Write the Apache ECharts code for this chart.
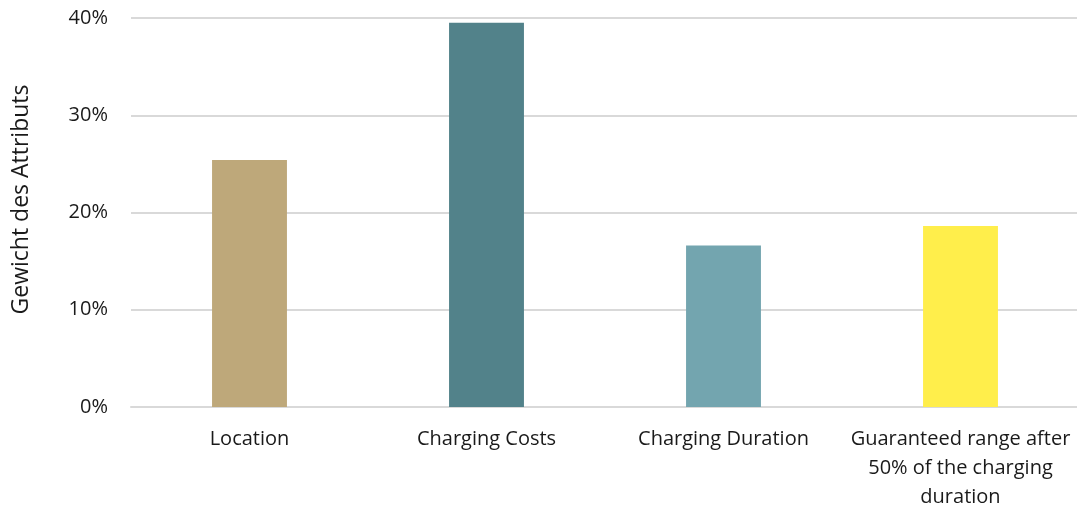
<!DOCTYPE html>
<html>
<head>
<meta charset="utf-8">
<script src="https://cdn.jsdelivr.net/npm/echarts@6/dist/echarts.min.js"></script>
<style>
  html, body { margin: 0; padding: 0; background: #ffffff; }
  #chart { width: 1077px; height: 506px; }
</style>
</head>
<body>
<div id="chart"></div>
<script>
// Attribute weights (share of total importance)
const categories = [
  'Location',
  'Charging Costs',
  'Charging Duration',
  'Guaranteed range after\n50% of the charging\nduration'
];
const weights = [0.254, 0.395, 0.166, 0.186];
const barColors = ['#BEA87A', '#52828A', '#73A5AF', '#FFEE4B'];
const yTicks = [0, 0.1, 0.2, 0.3, 0.4];

const font = '"Open Sans", "Liberation Sans", sans-serif';

const chart = echarts.init(document.getElementById('chart'), null, { renderer: 'canvas' });

chart.setOption({
  animation: false,
  backgroundColor: '#ffffff',
  grid: { left: 131, top: 18, width: 948, bottom: 99, containLabel: false, outerBoundsMode: 'none' },
  xAxis: {
    type: 'category',
    data: categories,
    axisLine: { show: true, lineStyle: { color: '#D9D9D9', width: 2 } },
    axisTick: { show: false },
    axisLabel: {
      interval: 0,
      color: '#1a1a1a',
      fontFamily: font,
      fontSize: 20,
      lineHeight: 29,
      margin: 18
    }
  },
  yAxis: {
    type: 'value',
    min: yTicks[0],
    max: yTicks[yTicks.length - 1],
    interval: 0.1,
    name: 'Gewicht des Attributs',
    nameLocation: 'middle',
    nameGap: 98,
    nameTextStyle: { color: '#1a1a1a', fontFamily: font, fontSize: 23, padding: [0, 0, 0, 26] },
    axisLine: { show: false },
    axisTick: { show: false },
    splitLine: { lineStyle: { color: '#D9D9D9', width: 2 } },
    axisLabel: {
      color: '#1a1a1a',
      fontFamily: font,
      fontSize: 20,
      margin: 23,
      formatter: v => Math.round(v * 100) + '%'
    }
  },
  series: [{
    type: 'bar',
    barWidth: '31.6%',
    data: weights.map((v, i) => ({ value: v, itemStyle: { color: barColors[i] } }))
  }]
});
</script>
</body>
</html>
